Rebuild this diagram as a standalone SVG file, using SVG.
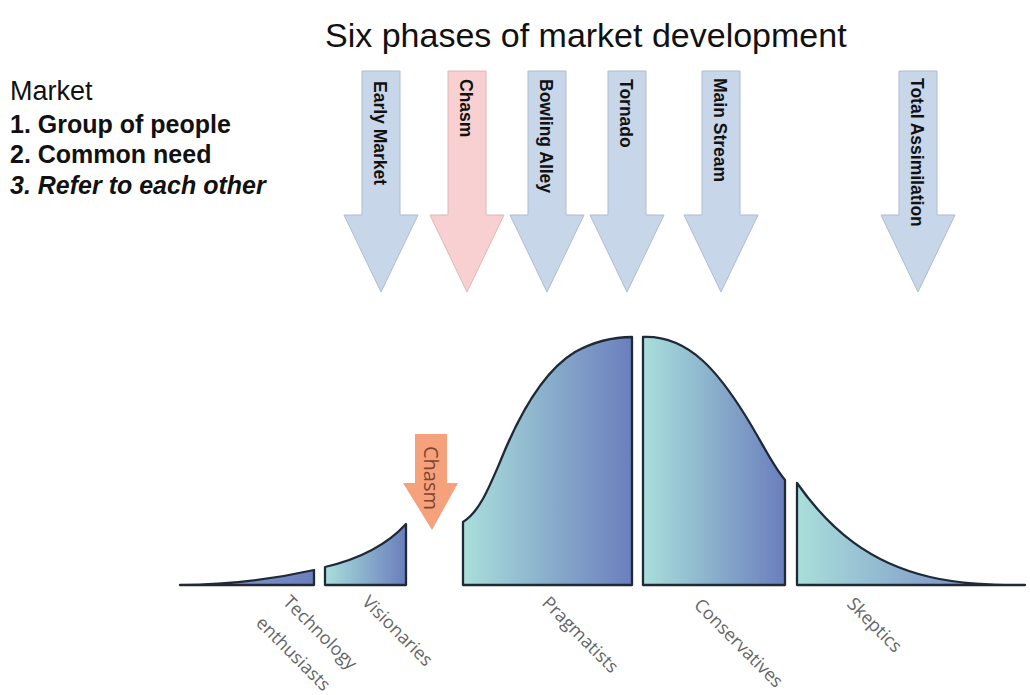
<svg xmlns="http://www.w3.org/2000/svg" xmlns:xlink="http://www.w3.org/1999/xlink" width="1030" height="695" viewBox="0 0 1030 695">
  <style>
    .title { font-family: "Liberation Sans", Arial, sans-serif; font-size: 34px; fill: #111; }
    .side { font-family: "Liberation Sans", Arial, sans-serif; fill: #111; }
    .phase-blue { fill: #c8d6ea; stroke: #aebbd0; stroke-width: 1; }
    .phase-pink { fill: #f9d0d1; stroke: #e3b4b6; stroke-width: 1; }
    .phase-label { font-family: "Liberation Sans", Arial, sans-serif; font-size: 17.5px; font-weight: bold; fill: #111; }
    .seg { stroke: #1f2a36; stroke-width: 2.3; stroke-linejoin: round; }
    .seg-label { font-family: "Open Sans", "DejaVu Sans", sans-serif; font-size: 18px; fill: #666; }
    .gap-arrow { fill: #f5a17c; }
    .gap-label { font-family: "Open Sans", "DejaVu Sans", sans-serif; font-size: 20px; fill: #7e4530; }
  </style>
  <defs>
    <!-- downward phase arrow, centred on x = 0 -->
    <path id="phaseArrow" d="M-19,71 H19 V215 H37 L0,292 L-37,215 H-19 Z"/>
    <linearGradient id="segFill" x1="0" y1="0" x2="1" y2="0">
      <stop offset="0" stop-color="#a9dfdb"/>
      <stop offset="1" stop-color="#6a7ebd"/>
    </linearGradient>
    <linearGradient id="tailFill" x1="0" y1="0" x2="1" y2="0">
      <stop offset="0" stop-color="#8fa6d4"/>
      <stop offset="1" stop-color="#6a7ebd"/>
    </linearGradient>
    <linearGradient id="skepticFill" x1="0" y1="0" x2="1" y2="0">
      <stop offset="0" stop-color="#a9dfdb"/>
      <stop offset="0.7" stop-color="#7f97c8"/>
      <stop offset="1" stop-color="#6a7ebd"/>
    </linearGradient>
  </defs>

  <rect width="1030" height="695" fill="#ffffff"/>

  <text class="title" x="325" y="47">Six phases of market development</text>

  <g id="market-definition" class="side">
    <text x="10" y="100" font-size="27">Market</text>
    <text x="10" y="133" font-size="25" font-weight="bold">1. Group of people</text>
    <text x="10" y="163" font-size="25" font-weight="bold">2. Common need</text>
    <text x="10" y="194" font-size="25" font-style="italic" font-weight="bold">3. Refer to each other</text>
  </g>

  <!-- phase arrows -->
  <g id="phase-early-market" transform="translate(381,0)">
    <use xlink:href="#phaseArrow" class="phase-blue"/>
    <text class="phase-label" transform="translate(-7,81) rotate(90)">Early Market</text>
  </g>
  <g id="phase-chasm" transform="translate(467,0)">
    <use xlink:href="#phaseArrow" class="phase-pink"/>
    <text class="phase-label" transform="translate(-7,79) rotate(90)">Chasm</text>
  </g>
  <g id="phase-bowling-alley" transform="translate(547,0)">
    <use xlink:href="#phaseArrow" class="phase-blue"/>
    <text class="phase-label" transform="translate(-7,79) rotate(90)">Bowling Alley</text>
  </g>
  <g id="phase-tornado" transform="translate(627,0)">
    <use xlink:href="#phaseArrow" class="phase-blue"/>
    <text class="phase-label" transform="translate(-7,79) rotate(90)">Tornado</text>
  </g>
  <g id="phase-main-stream" transform="translate(721,0)">
    <use xlink:href="#phaseArrow" class="phase-blue"/>
    <text class="phase-label" transform="translate(-7,78) rotate(90)">Main Stream</text>
  </g>
  <g id="phase-total-assimilation" transform="translate(918,0)">
    <use xlink:href="#phaseArrow" class="phase-blue"/>
    <text class="phase-label" transform="translate(-7,78) rotate(90)">Total Assimilation</text>
  </g>

  <!-- adoption curve segments -->
  <g id="seg-technology-enthusiasts">
    <path class="seg" fill="url(#tailFill)" d="M180,585 C225,585 265,581 314,570 L314,585 Z"/>
    <text class="seg-label" transform="translate(282,603) rotate(45)">Technology</text>
    <text class="seg-label" transform="translate(255,624) rotate(45)">enthusiasts</text>
  </g>
  <g id="seg-visionaries">
    <path class="seg" fill="url(#segFill)" d="M325,585 L325,567 C355,560 385,547 406,524 L406,585 Z"/>
    <text class="seg-label" transform="translate(361,603) rotate(45)">Visionaries</text>
  </g>
  <g id="seg-pragmatists">
    <path class="seg" fill="url(#segFill)" d="M463,585 L463,522 C479,512 488,490 500,462 C520,412 545,370 575,352 C595,341 615,337 632,337 L632,585 Z"/>
    <text class="seg-label" transform="translate(541,604) rotate(45)">Pragmatists</text>
  </g>
  <g id="seg-conservatives">
    <path class="seg" fill="url(#segFill)" d="M643,585 L643,337 C690,335 720,375 745,415 C762,442 772,465 785,480 L785,585 Z"/>
    <text class="seg-label" transform="translate(693,606) rotate(45)">Conservatives</text>
  </g>
  <g id="seg-skeptics">
    <path class="seg" fill="url(#skepticFill)" d="M797,585 L797,483 C830,530 870,563 930,577 C960,584 990,585 1025,585 Z"/>
    <text class="seg-label" transform="translate(846,605) rotate(45)">Skeptics</text>
  </g>

  <!-- chasm marker between visionaries and pragmatists -->
  <g id="chasm-marker">
    <path class="gap-arrow" d="M415,434 H447 V483 H458 L432,530 L403,483 H415 Z"/>
    <text class="gap-label" transform="translate(424,446) rotate(90)">Chasm</text>
  </g>
</svg>
